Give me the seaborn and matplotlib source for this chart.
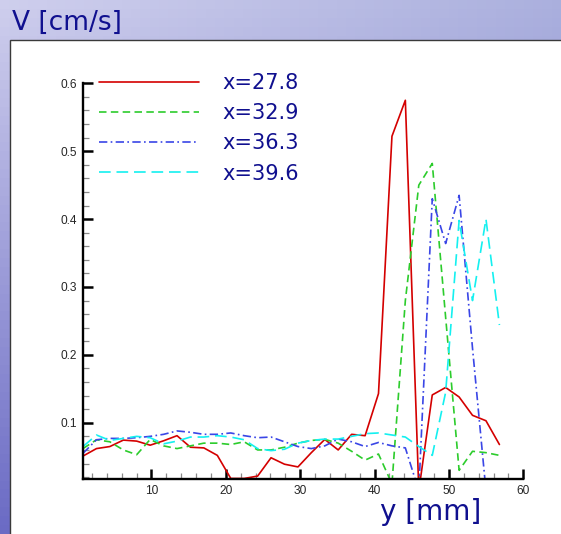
import numpy as np
import pandas as pd
import matplotlib
matplotlib.use("Agg")
import matplotlib.pyplot as plt
import seaborn as sns
from matplotlib.patches import Rectangle
from matplotlib.ticker import MultipleLocator, FormatStrFormatter

# ---- data ----
y_mm = [0.80, 2.61, 4.41, 6.22, 8.02, 9.83, 11.64, 13.44, 15.25, 17.05, 18.86,
        20.67, 22.47, 24.28, 26.08, 27.89, 29.70, 31.50, 33.31, 35.11, 36.92,
        38.73, 40.53, 42.34, 44.14, 45.95, 47.76, 49.56, 51.37, 53.17, 54.98, 56.79]

v_278 = [0.051, 0.062, 0.065, 0.0745, 0.073, 0.067, 0.0735, 0.081, 0.064, 0.063,
         0.052, 0.018, 0.018, 0.0215, 0.0485, 0.039, 0.035, 0.056, 0.0755, 0.060,
         0.083, 0.081, 0.143, 0.522, 0.575, 0.0, 0.141, 0.152, 0.138, 0.111, 0.103, 0.068]
v_329 = [0.062, 0.075, 0.072, 0.060, 0.053, 0.0755, 0.066, 0.062, 0.066, 0.070,
         0.070, 0.068, 0.072, 0.060, 0.060, 0.064, 0.070, 0.074, 0.0755, 0.070,
         0.058, 0.045, 0.054, 0.010, 0.28, 0.45, 0.482, 0.255, 0.030, 0.058, 0.056, 0.052]
v_363 = [0.055, 0.075, 0.077, 0.077, 0.078, 0.080, 0.083, 0.088, 0.086, 0.083,
         0.083, 0.085, 0.081, 0.078, 0.079, 0.072, 0.065, 0.062, 0.066, 0.076,
         0.072, 0.065, 0.071, 0.066, 0.063, 0.0, 0.43, 0.364, 0.435, 0.21, 0.0]
v_396 = [0.065, 0.082, 0.074, 0.077, 0.080, 0.078, 0.069, 0.073, 0.079, 0.079,
         0.081, 0.079, 0.075, 0.062, 0.059, 0.061, 0.070, 0.074, 0.076, 0.076,
         0.080, 0.084, 0.085, 0.082, 0.079, 0.065, 0.052, 0.145, 0.398, 0.28, 0.40, 0.244]

series_names = ["x=27.8", "x=32.9", "x=36.3", "x=39.6"]
series_vals = [v_278, v_329, v_363, v_396]
x_ticks = [10, 20, 30, 40, 50, 60]
y_ticks = [0.1, 0.2, 0.3, 0.4, 0.5, 0.6]

frames = []
for name, vals in zip(series_names, series_vals):
    frames.append(pd.DataFrame({"y": y_mm[:len(vals)], "V": vals, "series": name}))
df = pd.concat(frames, ignore_index=True)

palette = {"x=27.8": "#d40000", "x=32.9": "#2ccc2c",
           "x=36.3": "#3a46e6", "x=39.6": "#14f0f0"}
dashes = {"x=27.8": "", "x=32.9": (4.5, 2.6),
          "x=36.3": (5, 2, 1, 2), "x=39.6": (7, 3.5)}

sns.set_style("ticks")
plt.rcParams["font.family"] = ["DejaVu Sans"]

W, H = 561, 534
fig = plt.figure(figsize=(W / 100, H / 100), dpi=100)

# background gradient (slide)
bg = fig.add_axes([0, 0, 1, 1], zorder=-10)
bg.set_axis_off()
nx, ny = 60, 60
xx, yy = np.meshgrid(np.linspace(0, 1, nx), np.linspace(0, 1, ny))
TL = np.array([0.81, 0.81, 0.93]); TR = np.array([0.67, 0.69, 0.87])
BL = np.array([0.42, 0.42, 0.77]); BR = np.array([0.45, 0.45, 0.78])
img = ((1 - xx)[..., None] * (1 - yy)[..., None] * TL + xx[..., None] * (1 - yy)[..., None] * TR
       + (1 - xx)[..., None] * yy[..., None] * BL + xx[..., None] * yy[..., None] * BR)
bg.imshow(img, extent=[0, 1, 0, 1], aspect="auto", origin="upper")
bg.set_xlim(0, 1); bg.set_ylim(0, 1)
bg.add_patch(Rectangle((10 / W, -0.01), 1.0, 1 - 40 / H + 0.01, facecolor="white",
                       edgecolor="#3a3a3a", linewidth=1.0))

ax = fig.add_axes([83 / W, 1 - 479 / H, (523.3 - 83) / W, (479 - 83.3) / H])
ax.set_facecolor("none")

sns.lineplot(data=df, x="y", y="V", hue="series", style="series",
             palette=palette, dashes=dashes, estimator=None, sort=False,
             legend=False, linewidth=1.2, ax=ax)

ax.set_xlim(0.8, 60)
ax.set_ylim(0.0172, 0.6)
ax.set_xticks(x_ticks)
ax.set_yticks(y_ticks)
ax.xaxis.set_minor_locator(MultipleLocator(2))
ax.yaxis.set_minor_locator(MultipleLocator(0.02))
ax.yaxis.set_major_formatter(FormatStrFormatter("%.1f"))
ax.set_xlabel(""); ax.set_ylabel("")
for s in ["top", "right"]:
    ax.spines[s].set_visible(False)
for s in ["left", "bottom"]:
    ax.spines[s].set_linewidth(1.7)
    ax.spines[s].set_color("black")
ax.tick_params(which="major", direction="in", length=7, width=1.8, color="black",
               labelsize=8.6, pad=4.5)
ax.tick_params(which="minor", direction="in", length=4.5, width=0.9, color="#8a8a8a")
for lab in ax.get_xticklabels() + ax.get_yticklabels():
    lab.set_fontfamily("Liberation Sans")

leg = ax.legend(handles=ax.lines[:4], labels=series_names, loc="upper left",
                bbox_to_anchor=(99 / W, 1 - 73 / H), bbox_transform=fig.transFigure,
                frameon=False, fontsize=15, handlelength=4.8, handletextpad=1.1,
                labelspacing=0.49, borderpad=0, borderaxespad=0)
for t in leg.get_texts():
    t.set_color("#10108f")

fig.text(12 / W, 1 - 30 / H, "V [cm/s]", fontsize=19, color="#10108f",
         ha="left", va="baseline")
fig.text(380 / W, 1 - 520 / H, "y [mm]", fontsize=20, color="#10108f",
         ha="left", va="baseline")

fig.savefig("out.png", dpi=100)
